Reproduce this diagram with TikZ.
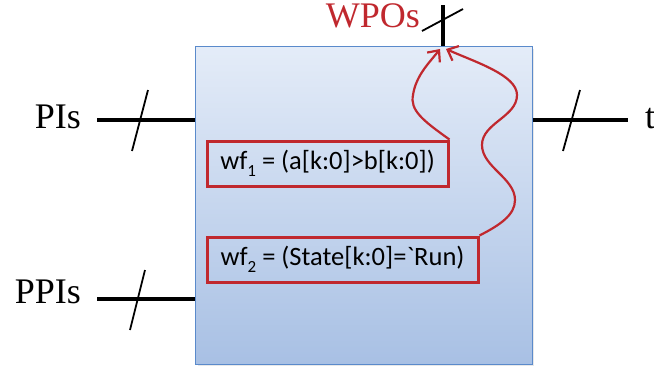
\documentclass[tikz,border=0pt]{standalone}
\usepackage{fontspec}
\setmainfont{Liberation Serif}
\newfontfamily\calibri{Carlito}
\usetikzlibrary{arrows.meta}
\definecolor{boxtop}{HTML}{E4ECF8}
\definecolor{boxbot}{HTML}{A8C0E4}
\definecolor{boxline}{HTML}{5A8ACB}
\definecolor{wfred}{HTML}{C0282E}
\newcommand{\lowsub}[1]{\raisebox{-0.25em}{\fontsize{17}{17}\selectfont #1}}
\begin{document}
\begin{tikzpicture}[x=1pt,y=-1pt,
  port/.style={line width=3.2pt,black},
  busmark/.style={line width=1.8pt,black},
  lbl/.style={font=\fontsize{36}{36}\selectfont,inner sep=0pt},
  cond/.style={draw=wfred,line width=3pt,font=\calibri\fontsize{26.5}{26.5}\selectfont,
    inner sep=0pt,minimum height=45pt},
  flow/.style={draw=wfred,line width=2.2pt,-{Straight Barb[length=9pt,width=16pt]}}]
\useasboundingbox (0,0) rectangle (654,373);

% design block with a soft drop shadow
\fill[black!9] (198,49) rectangle (534,366);
\node[draw=boxline,line width=0.8pt,top color=boxtop,bottom color=boxbot,
  inner sep=0pt,minimum width=337pt,minimum height=318pt,anchor=north west]
  (core) at (195,46) {};

% condition boxes
\node[cond,minimum width=241pt] (wf1) at (327.5,163.5) {wf\lowsub{1} = (a[k:0]>b[k:0])};
\node[cond,minimum width=271pt] (wf2) at (342.5,259.5) {wf\lowsub{2} = (State[k:0]=`Run)};

% primary inputs
\coordinate (piL) at (97,120);
\draw[port] (piL) -- (core.west |- piL);
\draw[busmark] (132,151) -- (148,90);
\node[lbl,anchor=base east] (pi) at (81,128) {PIs};

% pseudo-primary inputs
\coordinate (ppiL) at (97,299);
\draw[port] (ppiL) -- (core.west |- ppiL);
\draw[busmark] (130,330) -- (145,270);
\node[lbl,anchor=base east] (ppi) at (81,303) {PPIs};

% outputs on the right
\coordinate (toR) at (628,120);
\draw[port] (core.east |- toR) -- (toR);
\draw[busmark] (563,151) -- (580,90);
\node[lbl,anchor=base west] (t) at (645,128) {t};

% watched pseudo-outputs at the top
\coordinate (wpo) at (443,5);
\draw[port] (core.north -| wpo) -- (wpo);
\draw[busmark] (422,31) -- (463,9);
\node[lbl,anchor=base east,text=wfred] (wpos) at (420,27) {WPOs};

% propagation paths
\coordinate (tipA) at (440,49);
\coordinate (tipB) at (446,49);
\draw[flow] (wf1.north east) .. controls (422,120) and (410,110) .. (413,95)
  .. controls (416,75) and (430,62) .. (tipA);
\draw[flow] (wf2.north east) .. controls (500,225) and (515,215) .. (515,200)
  .. controls (515,178) and (482,167) .. (482,145)
  .. controls (482,123) and (517,117) .. (517,95)
  .. controls (517,75) and (475,62) .. (tipB);
\end{tikzpicture}
\end{document}
